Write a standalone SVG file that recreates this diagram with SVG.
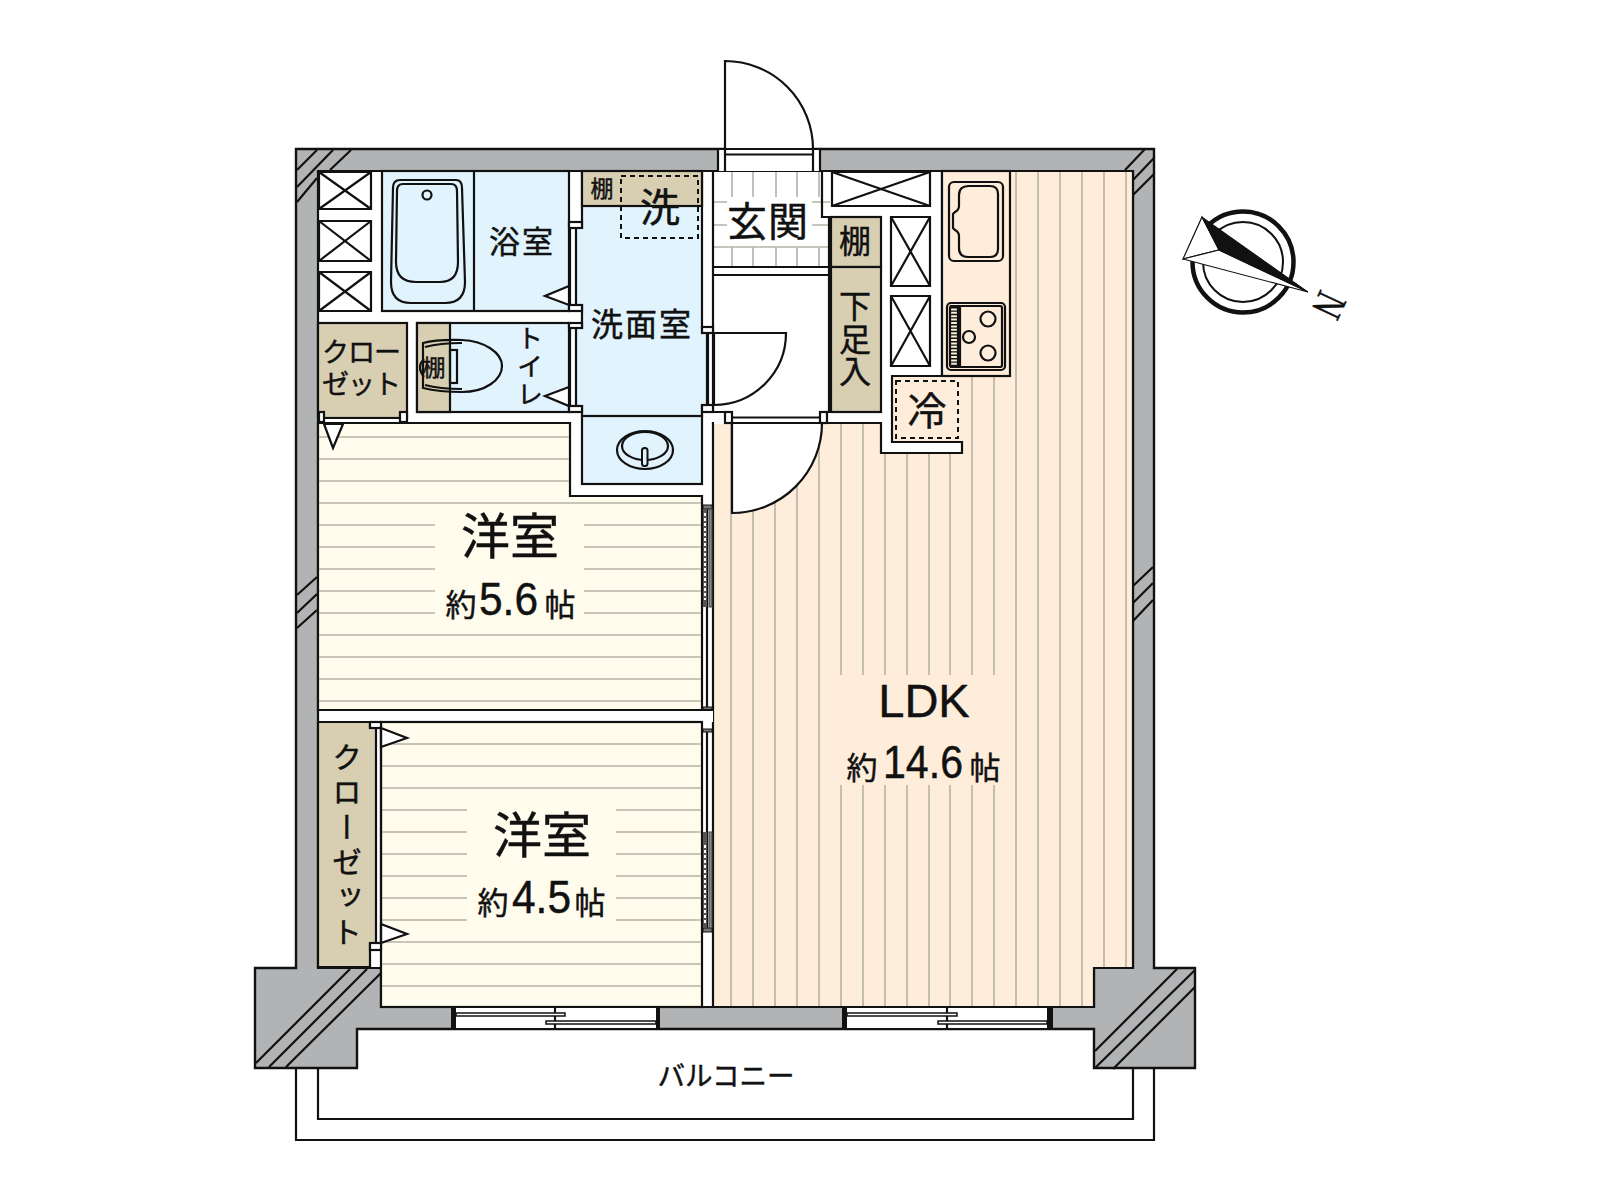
<svg xmlns="http://www.w3.org/2000/svg" width="1600" height="1200" viewBox="0 0 1600 1200">
<style>
text{font-family:"Noto Sans CJK JP","Noto Sans",sans-serif;fill:#111;stroke:#111;stroke-width:.45;text-anchor:middle}
.k{fill:none;stroke:#111;stroke-width:2.2}
.w{fill:#fff;stroke:#111;stroke-width:2.2}
.wall{fill:#b2b3b5;stroke:#111;stroke-width:2.4;stroke-linejoin:miter}
.h{fill:none;stroke:#111;stroke-width:2.2}
.blue{fill:#e1f3fd;stroke:#111;stroke-width:2.2}
.tan{fill:#d8cfb3;stroke:#111;stroke-width:2.2}
.cream{fill:#fffced;stroke:#111;stroke-width:2.2}
.peach{fill:#feeddb;stroke:#111;stroke-width:2.2}
.g{stroke:#b5b2a6;stroke-width:1.6;fill:none}
.d{fill:none;stroke:#111;stroke-width:2;stroke-dasharray:5 4}
.v{writing-mode:vertical-rl}
.num{font-family:"Liberation Sans",Arial,sans-serif;text-anchor:start}
</style>
<defs>
<g id="x"><path d="M0 0L1 1M1 0L0 1" vector-effect="non-scaling-stroke" class="k"/><rect width="1" height="1" vector-effect="non-scaling-stroke" class="k"/></g>
</defs>
<rect width="1600" height="1200" fill="#fff"/>

<g id="balcony">
<path class="k" d="M296 1068V1140H1154V1068"/>
<path class="k" d="M318 1068V1119H1133V1068"/>
<text x="726" y="1086" font-size="27.500">バルコニー</text>
</g>

<g id="walls">
<path class="wall" d="M296 149H1154V968H1195V1068H1094V1029H357V1068H255V968H296Z"/>
<path class="w" d="M318 171H1133V968H1094V1007H381V968H318Z"/>
<path class="h" d="M317 150L297 170M333 150L297 187M351 150L330 170M317 178L297 202"/>
<path class="h" d="M1145 149L1125 170M1154 158L1133 180M1154 174L1133 195"/>
<path class="h" d="M317 577L297 595M317 594L297 613M317 610L297 628"/>
<path class="h" d="M1153 567L1133 586M1153 583L1133 603M1153 600L1133 621"/>
<path class="h" d="M350 969L256 1063M367 969L269 1067M381 973L286 1067"/>
<path class="h" d="M1177 969L1095 1051M1195 970L1095 1068M1195 987L1113 1069"/>
</g>

<g id="storage-left">
<g transform="translate(319 172) scale(52 37)"><use href="#x"/></g>
<g transform="translate(319 221) scale(52 40)"><use href="#x"/></g>
<g transform="translate(319 272) scale(52 39)"><use href="#x"/></g>
</g>

<g id="bath">
<rect class="blue" x="382" y="171" width="187" height="140"/>
<path class="k" d="M474 171V311"/>
<path class="k" d="M400 180H456Q462 180 462 188L465 282Q465 303 445 303H411Q391 303 391 282L393 188Q393 180 400 180Z"/>
<path class="k" d="M403 184H451Q457 184 457 191L458 262Q458 282 440 282H416Q396 282 396 262L397 191Q397 184 403 184Z"/>
<circle class="k" cx="427" cy="195" r="4.500"/>
<text x="522" y="253" font-size="31" letter-spacing="2">浴室</text>
<path class="w" d="M569 286L545 296L569 305Z"/>
</g>

<g id="washroom">
<path class="blue" d="M582 171H702V328H707V405H702V416H582V406H576V328H582V305H576V228H582Z"/>
<rect class="tan" x="582" y="171" width="120" height="35"/>
<text x="602" y="197" font-size="23">棚</text>
<rect class="d" x="621" y="176" width="77" height="62"/>
<text x="660" y="222" font-size="40">洗</text>
<text x="642" y="336" font-size="32" letter-spacing="2">洗面室</text>
</g>

<g id="basin">
<rect class="blue" x="582" y="416" width="120" height="68"/>
<ellipse class="k" cx="645" cy="450" rx="28" ry="19"/>
<ellipse class="k" cx="645" cy="446" rx="23" ry="14"/>
<rect x="642" y="448" width="5.500" height="18" rx="2.500" fill="#e1f3fd" stroke="#111" stroke-width="2"/>
</g>

<g id="toilet">
<rect class="blue" x="417" y="323" width="152" height="89"/>
<rect class="tan" x="417" y="323" width="33" height="89"/>
<path class="k" d="M423 343C438 339 452 340 462 340C485 341 502 353 502 366C502 380 485 392 462 392C450 392 435 391 423 388Z"/>
<path class="k" d="M425 347C440 343 452 343 462 343M425 385C440 389 452 389 462 389"/>
<path class="k" d="M424 359Q416 367 424 377"/>
<rect class="k" x="450" y="350" width="7" height="33"/>
<text x="434" y="376" font-size="23">棚</text>
<text class="v" x="530" y="367" font-size="26" letter-spacing="2">トイレ</text>
<path class="w" d="M569 387L545 396L569 406Z"/>
</g>

<g id="closet-1">
<rect class="tan" x="318" y="323" width="89" height="95"/>
<text font-size="27" letter-spacing="-1"><tspan x="361" y="362">クロー</tspan><tspan x="361" y="394">ゼット</tspan></text>
</g>

<g id="bedroom-1">
<path class="cream" d="M318 423H570V496H702V710H318Z"/>
<path class="g" d="M319 437H569M319 459H569M319 481H569M319 503H701M319 635H701M319 657H701M319 679H701M319 701H701M319 525H435M584 525H701M319 547H435M584 547H701M319 569H435M584 569H701M319 591H435M584 591H701M319 613H435M584 613H701"/>
<text x="510" y="554" font-size="49">洋室</text>
<text x="461" y="616" font-size="31">約</text>
<text class="num" x="479" y="615" font-size="46" textLength="59" lengthAdjust="spacingAndGlyphs">5.6</text>
<text x="560" y="616" font-size="31">帖</text>
<path class="w" d="M324 424H343L333 448Z"/>
</g>

<g id="bedroom-2">
<rect class="cream" x="381" y="722" width="321" height="285"/>
<path class="g" d="M382 744H701M382 766H701M382 788H701M382 942H701M382 964H701M382 986H701M382 810H467M616 810H701M382 832H467M616 832H701M382 854H467M616 854H701M382 876H467M616 876H701M382 898H467M616 898H701M382 920H467M616 920H701"/>
<text x="542" y="853" font-size="49">洋室</text>
<text x="493" y="914" font-size="31">約</text>
<text class="num" x="512" y="913" font-size="46" textLength="59" lengthAdjust="spacingAndGlyphs">4.5</text>
<text x="590" y="914" font-size="31">帖</text>
</g>

<g id="closet-2">
<path class="tan" d="M318 722H370V728H376V943H370V967H318Z"/>
<text class="v" x="347" y="847" font-size="30" letter-spacing="5">クローゼット</text>
<path class="w" d="M381 728L407 738L381 747Z"/>
<path class="w" d="M381 924L407 934L381 943Z"/>
</g>

<g id="ldk">
<path class="peach" d="M713 423H881V453H962V442H892V376H942V171H1133V968H1094V1007H713Z"/>
<path class="g" d="M731 424V1006M753 424V1006M775 424V1006M797 424V1006M819 424V1006M841 424V675M841 785V1006M863 424V675M863 785V1006M885 454V675M885 785V1006M907 454V675M907 785V1006M929 454V675M929 785V1006M950 454V675M950 785V1006M972 377V675M972 785V1006M994 377V675M994 785V1006M1016 172V1006M1038 172V1006M1060 172V1006M1082 172V1006M1104 172V967M1126 172V967"/>
<rect class="peach" x="942" y="171" width="68" height="205"/>
<text x="924" y="717" font-size="47" class="num" style="text-anchor:middle">LDK</text>
<text x="862" y="779" font-size="31">約</text>
<text class="num" x="883" y="778" font-size="46" textLength="80" lengthAdjust="spacingAndGlyphs">14.6</text>
<text x="985" y="779" font-size="31">帖</text>
<rect x="949" y="182" width="54" height="79" rx="5" class="k"/>
<path class="k" d="M969 186H990Q998 186 998 194V249Q998 257 990 257H968Q959 257 959 248V236Q959 232 955 230L953 228V214L955 212Q959 210 959 206V195Q959 186 969 186Z"/>
<rect x="947" y="303" width="58" height="67" rx="4" class="k"/>
<rect x="950" y="306" width="52" height="61" rx="2" class="k"/>
<path class="k" d="M950 306H958V367H950"/>
<path d="M954 307V366" fill="none" stroke="#111" stroke-width="7" stroke-dasharray="1.400 2"/>
<path class="k" d="M960 306V367"/>
<circle class="k" cx="988" cy="319" r="7.500"/>
<circle class="k" cx="969" cy="337" r="6"/>
<circle class="k" cx="988" cy="353" r="7.500"/>
<rect class="d" x="896" y="381" width="62" height="57"/>
<text x="927" y="425" font-size="39">冷</text>
</g>

<g id="entrance">
<path class="g" d="M732 172V197M753 172V197M776 172V197M797 172V197M819 172V197M732 247V266M753 247V266M776 247V266M797 247V266M819 247V266M714 202H727M812 202H830M714 225H727M812 225H830M714 247H830"/>
<path class="k" d="M713 171V412M713 267H829M713 275H829M829 217V412"/>
<path class="k" d="M822 171V217H881"/>
<text x="768" y="236" font-size="40" letter-spacing="1">玄関</text>
</g>

<g id="storage-right">
<g transform="translate(832 172) scale(98 34)"><use href="#x"/></g>
<g transform="translate(891 217) scale(39 69)"><use href="#x"/></g>
<g transform="translate(891 296) scale(39 70)"><use href="#x"/></g>
<rect class="tan" x="831" y="217" width="50" height="50"/>
<rect class="tan" x="831" y="267" width="50" height="145"/>
<text x="855" y="253" font-size="32">棚</text>
<text class="v" x="855" y="290" font-size="32" letter-spacing="0.500" style="text-anchor:start">下足入</text>
</g>

<g id="doors">
<path class="w" d="M725 149V61A88 88 0 0 1 813 149Z"/>
<rect x="718" y="149" width="102" height="22" fill="#fff"/>
<path class="k" d="M718 149V171M725 149V171M813 149V171M820 149V171M718 149H820M725 154.500H813M713 171H718M820 171H822"/>
<path class="w" d="M714 333H786A72 72 0 0 1 714 405Z"/>
<rect class="w" x="702" y="327" width="11" height="6"/>
<rect class="w" x="702" y="405" width="11" height="7"/>
<path class="k" d="M708 333V405"/>
<rect x="714" y="413" width="113" height="11" fill="#fff"/>
<path class="w" d="M732 423H822A90 90 0 0 1 732 513Z"/>
<path class="k" d="M702 412H725M732 417.500H820M732 423H820M713 423V424"/>
<rect class="w" x="725" y="412" width="7" height="11"/>
<rect class="w" x="820" y="412" width="7" height="11"/>
<path class="k" d="M827 412H881M827 423H881"/>
<rect class="w" x="569" y="222" width="13" height="6"/>
<rect class="w" x="569" y="305" width="13" height="6"/>
<rect class="w" x="569" y="323" width="13" height="5"/>
<rect class="w" x="569" y="406" width="13" height="6"/>
<path class="k" d="M570 228V305M570 328V406"/>
<rect x="324" y="418" width="76" height="5" fill="#fff"/>
<path class="k" d="M324 418H400M318 423H407"/>
<rect class="w" x="319" y="412" width="5" height="10"/>
<rect class="w" x="400" y="412" width="7" height="10"/>
<rect class="w" x="370" y="722" width="11" height="6"/>
<rect class="w" x="370" y="943" width="11" height="7"/>
<path class="k" d="M381 728V943"/>
<g id="slide-1">
<rect x="703" y="505" width="9" height="4" fill="#777" stroke="#111"/>
<rect x="703" y="707" width="9" height="3" fill="#777" stroke="#111"/>
<path class="k" d="M707 509V707"/>
<rect x="709" y="509" width="3" height="98" fill="#888" stroke="#444"/>
<rect x="703" y="509" width="4" height="98" fill="#555"/>
<path d="M705 513V600" stroke="#fff" stroke-width="2" stroke-dasharray="3 2"/>
</g>
<g id="slide-2">
<rect x="703" y="729" width="9" height="3" fill="#777" stroke="#111"/>
<rect x="703" y="928" width="9" height="4" fill="#777" stroke="#111"/>
<path class="k" d="M707 732V928"/>
<rect x="709" y="832" width="3" height="96" fill="#888" stroke="#444"/>
<rect x="703" y="832" width="4" height="96" fill="#555"/>
<path d="M705 845V925" stroke="#fff" stroke-width="2" stroke-dasharray="3 2"/>
</g>
<rect x="703" y="710" width="10" height="12" fill="#fff"/>
<path class="k" d="M318 710H713M381 722H702"/>
</g>

<g id="windows">
<g id="window-1">
<rect x="452" y="1007" width="207" height="22" fill="#fff" stroke="#111" stroke-width="2"/>
<rect x="452" y="1007" width="4" height="22" fill="#111"/>
<rect x="656" y="1007" width="3" height="22" fill="#111"/>
<path class="k" d="M555 1007V1029"/>
<rect class="w" x="456" y="1013" width="109" height="3" style="stroke-width:1.500"/>
<rect class="w" x="546" y="1021" width="110" height="3" style="stroke-width:1.500"/>
</g>
<g id="window-2">
<rect x="843" y="1007" width="209" height="22" fill="#fff" stroke="#111" stroke-width="2"/>
<rect x="843" y="1007" width="4" height="22" fill="#111"/>
<rect x="1047" y="1007" width="5" height="22" fill="#111"/>
<path class="k" d="M947 1007V1029"/>
<rect class="w" x="847" y="1013" width="110" height="3" style="stroke-width:1.500"/>
<rect class="w" x="938" y="1021" width="109" height="3" style="stroke-width:1.500"/>
</g>
</g>

<g id="compass">
<circle cx="1243" cy="262" r="50.500" fill="#fff" stroke="#111" stroke-width="4.500"/>
<circle cx="1243" cy="262" r="40" fill="#fff" stroke="#111" stroke-width="2"/>
<path d="M1183 259L1202 217L1219 250Z" fill="#fff" stroke="#111" stroke-width="1.200"/>
<path d="M1183 259L1308 292L1219 250Z" fill="#fff" stroke="#111" stroke-width="1.200"/>
<path d="M1202 217L1308 292L1219 250Z" fill="#111" stroke="#111" stroke-width="1"/>
<text transform="translate(1316 299) rotate(115) scale(0.72 1)" font-size="44" style="font-family:'Liberation Serif',serif" x="0" y="0">N</text>
</g>
</svg>
